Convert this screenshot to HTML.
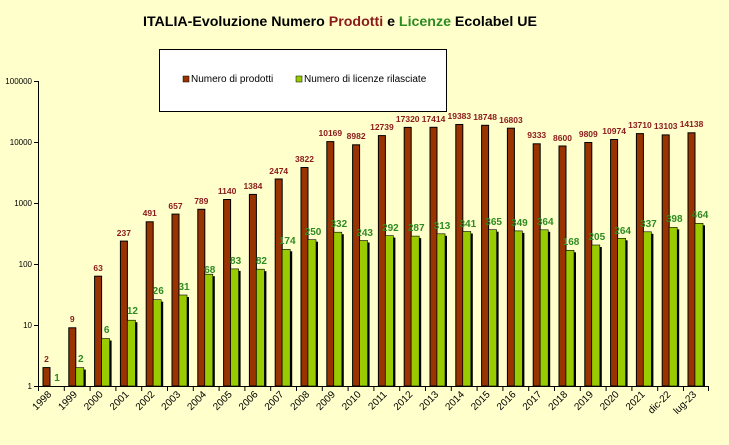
<!DOCTYPE html>
<html><head><meta charset="utf-8"><style>
html,body{margin:0;padding:0;background:#FFFFCC;}
svg{display:block;font-family:"Liberation Sans",Arial,sans-serif;}
.b{fill:#993300;stroke:#000;stroke-width:1}
.g{fill:#99CC00;stroke:#000;stroke-width:0.6}
.lb{font-size:8.5px;font-weight:bold;fill:#8B1A1A;text-anchor:middle}
.lg{font-size:10px;font-weight:bold;fill:#2E8B22;text-anchor:middle}
.xl{font-size:10px;fill:#000;text-anchor:end}
.yl{font-size:8px;fill:#000;text-anchor:end}
</style></head><body>
<svg width="729" height="445" viewBox="0 0 729 445">
<rect x="0" y="0" width="729" height="445" fill="#FFFFCC"/>
<text x="143" y="26" font-size="14.2" font-weight="bold" fill="#000">ITALIA-Evoluzione Numero <tspan fill="#8B1A1A">Prodotti</tspan> e  <tspan fill="#2E8B22">Licenze</tspan> Ecolabel UE</text>
<rect x="159.5" y="49.5" width="287" height="62" fill="#fff" stroke="#000" stroke-width="1"/>
<rect x="183" y="76" width="6" height="6" fill="#993300" stroke="#000" stroke-width="0.5"/>
<text x="191" y="82" font-size="10">Numero di prodotti</text>
<rect x="296" y="76" width="6" height="6" fill="#99CC00" stroke="#000" stroke-width="0.5"/>
<text x="304" y="82" font-size="10">Numero di licenze rilasciate</text>
<line x1="38.5" y1="81" x2="38.5" y2="386" stroke="#000"/>
<line x1="38" y1="386.5" x2="709" y2="386.5" stroke="#000"/>
<g stroke="#000">
<line x1="34" y1="81.5" x2="38" y2="81.5"/><line x1="34" y1="142.5" x2="38" y2="142.5"/><line x1="34" y1="203.5" x2="38" y2="203.5"/><line x1="34" y1="264.5" x2="38" y2="264.5"/><line x1="34" y1="325.5" x2="38" y2="325.5"/><line x1="34" y1="386.5" x2="38" y2="386.5"/>
</g>
<text class="yl" x="32" y="84">100000</text>
<text class="yl" x="32" y="145">10000</text>
<text class="yl" x="32" y="206">1000</text>
<text class="yl" x="32" y="267">100</text>
<text class="yl" x="32" y="328">10</text>
<text class="yl" x="32" y="389">1</text>
<g stroke="#000">
<line x1="38.5" y1="386" x2="38.5" y2="391"/><line x1="64.3" y1="386" x2="64.3" y2="391"/><line x1="90.1" y1="386" x2="90.1" y2="391"/><line x1="115.9" y1="386" x2="115.9" y2="391"/><line x1="141.7" y1="386" x2="141.7" y2="391"/><line x1="167.5" y1="386" x2="167.5" y2="391"/><line x1="193.3" y1="386" x2="193.3" y2="391"/><line x1="219.1" y1="386" x2="219.1" y2="391"/><line x1="244.9" y1="386" x2="244.9" y2="391"/><line x1="270.7" y1="386" x2="270.7" y2="391"/><line x1="296.5" y1="386" x2="296.5" y2="391"/><line x1="322.3" y1="386" x2="322.3" y2="391"/><line x1="348.1" y1="386" x2="348.1" y2="391"/><line x1="373.9" y1="386" x2="373.9" y2="391"/><line x1="399.7" y1="386" x2="399.7" y2="391"/><line x1="425.5" y1="386" x2="425.5" y2="391"/><line x1="451.3" y1="386" x2="451.3" y2="391"/><line x1="477.1" y1="386" x2="477.1" y2="391"/><line x1="502.9" y1="386" x2="502.9" y2="391"/><line x1="528.7" y1="386" x2="528.7" y2="391"/><line x1="554.5" y1="386" x2="554.5" y2="391"/><line x1="580.3" y1="386" x2="580.3" y2="391"/><line x1="606.1" y1="386" x2="606.1" y2="391"/><line x1="631.9" y1="386" x2="631.9" y2="391"/><line x1="657.7" y1="386" x2="657.7" y2="391"/><line x1="683.5" y1="386" x2="683.5" y2="391"/><line x1="708.5" y1="386" x2="708.5" y2="391"/>
</g>

<g transform="translate(38,0)"><rect class="b" x="5" y="367.6" width="7" height="18.4"/><text class="lb" x="8.5" y="362">2</text><text class="lg" x="19" y="381">1</text><text class="xl" transform="translate(14,395) rotate(-45)">1998</text></g>
<g transform="translate(63.8,0)"><rect class="b" x="5" y="327.8" width="7" height="58.2"/><rect x="14" y="369.6" width="8" height="16.4" fill="#000"/><rect class="g" x="12" y="367.6" width="8" height="18.4"/><text class="lb" x="8.5" y="322">9</text><text class="lg" x="17" y="362">2</text><text class="xl" transform="translate(14,395) rotate(-45)">1999</text></g>
<g transform="translate(89.6,0)"><rect class="b" x="5" y="276.2" width="7" height="109.8"/><rect x="14" y="340.5" width="8" height="45.5" fill="#000"/><rect class="g" x="12" y="338.5" width="8" height="47.5"/><text class="lb" x="8.5" y="271">63</text><text class="lg" x="17" y="333">6</text><text class="xl" transform="translate(14,395) rotate(-45)">2000</text></g>
<g transform="translate(115.4,0)"><rect class="b" x="5" y="241.1" width="7" height="144.9"/><rect x="14" y="322.2" width="8" height="63.8" fill="#000"/><rect class="g" x="12" y="320.2" width="8" height="65.8"/><text class="lb" x="8.5" y="236">237</text><text class="lg" x="17" y="314">12</text><text class="xl" transform="translate(14,395) rotate(-45)">2001</text></g>
<g transform="translate(141.2,0)"><rect class="b" x="5" y="221.8" width="7" height="164.2"/><rect x="14" y="301.7" width="8" height="84.3" fill="#000"/><rect class="g" x="12" y="299.7" width="8" height="86.3"/><text class="lb" x="8.5" y="216">491</text><text class="lg" x="17" y="294">26</text><text class="xl" transform="translate(14,395) rotate(-45)">2002</text></g>
<g transform="translate(167,0)"><rect class="b" x="5" y="214.1" width="7" height="171.9"/><rect x="14" y="297" width="8" height="89" fill="#000"/><rect class="g" x="12" y="295" width="8" height="91"/><text class="lb" x="8.5" y="209">657</text><text class="lg" x="17" y="290">31</text><text class="xl" transform="translate(14,395) rotate(-45)">2003</text></g>
<g transform="translate(192.8,0)"><rect class="b" x="5" y="209.3" width="7" height="176.7"/><rect x="14" y="276.2" width="8" height="109.8" fill="#000"/><rect class="g" x="12" y="274.2" width="8" height="111.8"/><text class="lb" x="8.5" y="204">789</text><text class="lg" x="17" y="273">68</text><text class="xl" transform="translate(14,395) rotate(-45)">2004</text></g>
<g transform="translate(218.6,0)"><rect class="b" x="5" y="199.5" width="7" height="186.5"/><rect x="14" y="270.9" width="8" height="115.1" fill="#000"/><rect class="g" x="12" y="268.9" width="8" height="117.1"/><text class="lb" x="8.5" y="194">1140</text><text class="lg" x="17" y="264">83</text><text class="xl" transform="translate(14,395) rotate(-45)">2005</text></g>
<g transform="translate(244.4,0)"><rect class="b" x="5" y="194.4" width="7" height="191.6"/><rect x="14" y="271.2" width="8" height="114.8" fill="#000"/><rect class="g" x="12" y="269.2" width="8" height="116.8"/><text class="lb" x="8.5" y="189">1384</text><text class="lg" x="17" y="264">82</text><text class="xl" transform="translate(14,395) rotate(-45)">2006</text></g>
<g transform="translate(270.2,0)"><rect class="b" x="5" y="179" width="7" height="207"/><rect x="14" y="251.3" width="8" height="134.7" fill="#000"/><rect class="g" x="12" y="249.3" width="8" height="136.7"/><text class="lb" x="8.5" y="174">2474</text><text class="lg" x="17" y="244">174</text><text class="xl" transform="translate(14,395) rotate(-45)">2007</text></g>
<g transform="translate(296,0)"><rect class="b" x="5" y="167.5" width="7" height="218.5"/><rect x="14" y="241.7" width="8" height="144.3" fill="#000"/><rect class="g" x="12" y="239.7" width="8" height="146.3"/><text class="lb" x="8.5" y="162">3822</text><text class="lg" x="17" y="235">250</text><text class="xl" transform="translate(14,395) rotate(-45)">2008</text></g>
<g transform="translate(321.8,0)"><rect class="b" x="5" y="141.6" width="7" height="244.4"/><rect x="14" y="234.2" width="8" height="151.8" fill="#000"/><rect class="g" x="12" y="232.2" width="8" height="153.8"/><text class="lb" x="8.5" y="136">10169</text><text class="lg" x="17" y="227">332</text><text class="xl" transform="translate(14,395) rotate(-45)">2009</text></g>
<g transform="translate(347.6,0)"><rect class="b" x="5" y="144.8" width="7" height="241.2"/><rect x="14" y="242.5" width="8" height="143.5" fill="#000"/><rect class="g" x="12" y="240.5" width="8" height="145.5"/><text class="lb" x="8.5" y="139">8982</text><text class="lg" x="17" y="236">243</text><text class="xl" transform="translate(14,395) rotate(-45)">2010</text></g>
<g transform="translate(373.4,0)"><rect class="b" x="5" y="135.6" width="7" height="250.4"/><rect x="14" y="237.6" width="8" height="148.4" fill="#000"/><rect class="g" x="12" y="235.6" width="8" height="150.4"/><text class="lb" x="8.5" y="130">12739</text><text class="lg" x="17" y="231">292</text><text class="xl" transform="translate(14,395) rotate(-45)">2011</text></g>
<g transform="translate(399.2,0)"><rect class="b" x="5" y="127.4" width="7" height="258.6"/><rect x="14" y="238.1" width="8" height="147.9" fill="#000"/><rect class="g" x="12" y="236.1" width="8" height="149.9"/><text class="lb" x="8.5" y="122">17320</text><text class="lg" x="17" y="231">287</text><text class="xl" transform="translate(14,395) rotate(-45)">2012</text></g>
<g transform="translate(425,0)"><rect class="b" x="5" y="127.3" width="7" height="258.7"/><rect x="14" y="235.8" width="8" height="150.2" fill="#000"/><rect class="g" x="12" y="233.8" width="8" height="152.2"/><text class="lb" x="8.5" y="122">17414</text><text class="lg" x="17" y="229">313</text><text class="xl" transform="translate(14,395) rotate(-45)">2013</text></g>
<g transform="translate(450.8,0)"><rect class="b" x="5" y="124.5" width="7" height="261.5"/><rect x="14" y="233.5" width="8" height="152.5" fill="#000"/><rect class="g" x="12" y="231.5" width="8" height="154.5"/><text class="lb" x="8.5" y="119">19383</text><text class="lg" x="17" y="227">341</text><text class="xl" transform="translate(14,395) rotate(-45)">2014</text></g>
<g transform="translate(476.6,0)"><rect class="b" x="5" y="125.3" width="7" height="260.7"/><rect x="14" y="231.7" width="8" height="154.3" fill="#000"/><rect class="g" x="12" y="229.7" width="8" height="156.3"/><text class="lb" x="8.5" y="120">18748</text><text class="lg" x="17" y="225">365</text><text class="xl" transform="translate(14,395) rotate(-45)">2015</text></g>
<g transform="translate(502.4,0)"><rect class="b" x="5" y="128.2" width="7" height="257.8"/><rect x="14" y="232.9" width="8" height="153.1" fill="#000"/><rect class="g" x="12" y="230.9" width="8" height="155.1"/><text class="lb" x="8.5" y="123">16803</text><text class="lg" x="17" y="226">349</text><text class="xl" transform="translate(14,395) rotate(-45)">2016</text></g>
<g transform="translate(528.2,0)"><rect class="b" x="5" y="143.8" width="7" height="242.2"/><rect x="14" y="231.8" width="8" height="154.2" fill="#000"/><rect class="g" x="12" y="229.8" width="8" height="156.2"/><text class="lb" x="8.5" y="138">9333</text><text class="lg" x="17" y="225">364</text><text class="xl" transform="translate(14,395) rotate(-45)">2017</text></g>
<g transform="translate(554,0)"><rect class="b" x="5" y="146" width="7" height="240"/><rect x="14" y="252.3" width="8" height="133.7" fill="#000"/><rect class="g" x="12" y="250.3" width="8" height="135.7"/><text class="lb" x="8.5" y="141">8600</text><text class="lg" x="17" y="245">168</text><text class="xl" transform="translate(14,395) rotate(-45)">2018</text></g>
<g transform="translate(579.8,0)"><rect class="b" x="5" y="142.5" width="7" height="243.5"/><rect x="14" y="247" width="8" height="139" fill="#000"/><rect class="g" x="12" y="245" width="8" height="141"/><text class="lb" x="8.5" y="137">9809</text><text class="lg" x="17" y="240">205</text><text class="xl" transform="translate(14,395) rotate(-45)">2019</text></g>
<g transform="translate(605.6,0)"><rect class="b" x="5" y="139.5" width="7" height="246.5"/><rect x="14" y="240.3" width="8" height="145.7" fill="#000"/><rect class="g" x="12" y="238.3" width="8" height="147.7"/><text class="lb" x="8.5" y="134">10974</text><text class="lg" x="17" y="234">264</text><text class="xl" transform="translate(14,395) rotate(-45)">2020</text></g>
<g transform="translate(631.4,0)"><rect class="b" x="5" y="133.6" width="7" height="252.4"/><rect x="14" y="233.8" width="8" height="152.2" fill="#000"/><rect class="g" x="12" y="231.8" width="8" height="154.2"/><text class="lb" x="8.5" y="128">13710</text><text class="lg" x="17" y="227">337</text><text class="xl" transform="translate(14,395) rotate(-45)">2021</text></g>
<g transform="translate(657.2,0)"><rect class="b" x="5" y="134.9" width="7" height="251.1"/><rect x="14" y="229.4" width="8" height="156.6" fill="#000"/><rect class="g" x="12" y="227.4" width="8" height="158.6"/><text class="lb" x="8.5" y="129">13103</text><text class="lg" x="17" y="222">398</text><text class="xl" transform="translate(14,395) rotate(-45)">dic-22</text></g>
<g transform="translate(683,0)"><rect class="b" x="5" y="132.8" width="7" height="253.2"/><rect x="14" y="225.3" width="8" height="160.7" fill="#000"/><rect class="g" x="12" y="223.3" width="8" height="162.7"/><text class="lb" x="8.5" y="127">14138</text><text class="lg" x="17" y="218">464</text><text class="xl" transform="translate(14,395) rotate(-45)">lug-23</text></g>
</svg>
</body></html>
